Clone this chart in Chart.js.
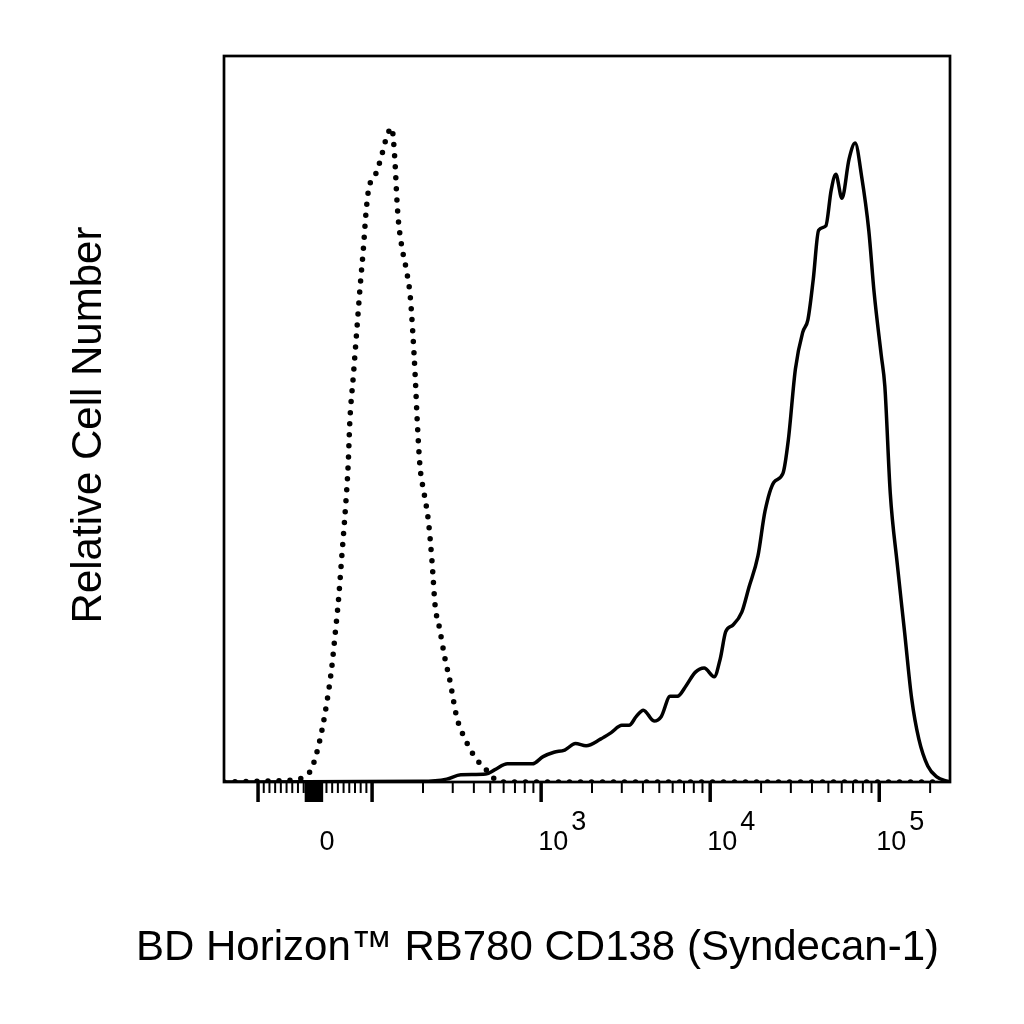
<!DOCTYPE html>
<html>
<head>
<meta charset="utf-8">
<script src="https://cdn.jsdelivr.net/npm/chart.js@4.4.1/dist/chart.umd.min.js"></script>
<style>
  html, body { margin: 0; padding: 0; background: #fff; }
  canvas { display: block; }
</style>
</head>
<body>
<canvas id="myChart" width="1024" height="1024"></canvas>
<script>
// isotype control (dotted) and CD138 stained (solid) histograms
const isoX = [-159, -60, -20.5, -5.8, 8.8, 20.5, 29.3, 35, 41, 47, 53, 58, 61, 67, 73, 79, 85, 89, 93.5,
  107, 117, 122, 131, 134, 137, 140, 143, 150, 159, 168, 174, 180, 185, 192, 203, 215, 226, 236,
  250, 270, 289, 317, 355, 407, 477, 572, 262144];
const isoY = [0, 0.2, 0.6, 1.9, 5.9, 10.9, 15.8, 20.2, 25.0, 31.2, 37.4, 43.6, 49.7, 55.8, 62.0, 68.2, 73.7, 78.1, 81.4,
  84.2, 87.3, 88.9, 90.1, 88.2, 84.9, 80.5, 77.4, 73.7, 70.7, 67.0, 62.0, 55.8, 49.7, 43.5, 39.8, 36.1, 30.5, 24.3,
  21.3, 17.0, 13.9, 8.9, 5.9, 3.4, 1.6, 0, 0];

const cd138X = [-159, 196, 276, 335, 471, 533, 632, 888, 1027, 1191, 1378, 1596, 1846, 2244, 2596,
  3003, 3313, 3648, 4024, 4656, 5130, 5799, 6397, 7221, 8152, 9215, 10560, 11475, 12353, 13604,
  15382, 16943, 19150, 21099, 23823, 26935, 28986, 31921, 35216, 37862, 40690, 43796, 48306, 51938, 55371,
  60159, 66283, 72000, 78670, 86700, 93280, 102750, 107930, 116180, 127990, 141150, 155490, 171530, 193640, 218900,
  253300, 262144];
const cd138Y = [0, 0.1, 0.4, 1.0, 1.1, 1.7, 2.5, 2.5, 3.5, 4.1, 4.4, 5.3, 5.0, 5.9, 6.8,
  7.8, 7.8, 9.0, 9.9, 8.4, 9.0, 11.8, 11.8, 13.3, 15.1, 15.7, 14.5, 17.0, 20.7, 21.6,
  23.4, 26.8, 31.1, 37.3, 41.3, 42.5, 47.1, 56.9, 61.9, 63.7, 69.2, 76.0, 76.6, 81.5, 83.7,
  80.4, 85.8, 88.0, 83.4, 76.0, 67.4, 58.8, 54.5, 39.8, 29.9, 20.7, 11.5, 5.9, 2.2, 0.7,
  0.1, 0];

// axis ticks
const majorTicks = [-100, 100, 1000, 10000, 100000];
const zeroTicks = [-16, -14, -12, -10, -8, -6, -4, -2, 0, 2, 4, 6, 8, 10, 12];
const minorTicks = [-90, -80, -70, -60, -50, -40, -30, -20, 20, 30, 40, 50, 60, 70, 80, 90,
  200, 300, 400, 500, 600, 700, 800, 900,
  2000, 3000, 4000, 5000, 6000, 7000, 8000, 9000,
  20000, 30000, 40000, 50000, 60000, 70000, 80000, 90000, 200000];
const labelValues = [0, 1000, 10000, 100000];
const labelBases = ['0', '10', '10', '10'];
const labelExps = ['', '3', '4', '5'];

const xTitle = 'BD Horizon\u2122 RB780 CD138 (Syndecan-1)';
const yTitle = 'Relative Cell Number';

// biexponential-like display: linear within +-100, log decades outside
const LIN = 100;
const DEC = 169 / 57;
function biex(v) {
  const a = Math.abs(v);
  if (a <= LIN) return v / LIN;
  return Math.sign(v) * (1 + Math.log10(a / LIN) * DEC);
}
function biexInv(d) {
  const a = Math.abs(d);
  if (a <= 1) return d * LIN;
  return Math.sign(d) * LIN * Math.pow(10, (a - 1) / DEC);
}

class BiexScale extends Chart.LinearScale {
  getPixelForValue(value) {
    const a = biex(this.min), b = biex(this.max);
    return this.getPixelForDecimal((biex(value) - a) / (b - a));
  }
  getValueForPixel(pixel) {
    const a = biex(this.min), b = biex(this.max);
    return biexInv(a + this.getDecimalForPixel(pixel) * (b - a));
  }
}
BiexScale.id = 'biex';
BiexScale.defaults = {};
Chart.register(BiexScale);

const FONT = '"Liberation Sans", Arial, Helvetica, sans-serif';

const flowFrame = {
  id: 'flowFrame',
  afterDraw(chart) {
    const ctx = chart.ctx;
    const area = chart.chartArea;
    const xs = chart.scales.x;
    ctx.save();
    ctx.strokeStyle = '#000';
    ctx.fillStyle = '#000';

    // ticks
    ctx.lineCap = 'butt';
    const drawTicks = (vals, len, w) => {
      ctx.lineWidth = w;
      vals.forEach(v => {
        const px = xs.getPixelForValue(v);
        ctx.beginPath();
        ctx.moveTo(px, area.bottom);
        ctx.lineTo(px, area.bottom + len);
        ctx.stroke();
      });
    };
    drawTicks(minorTicks, 11, 2);
    drawTicks(majorTicks, 20, 3.5);
    drawTicks(zeroTicks, 20, 2.5);

    // frame
    ctx.lineWidth = 2.7;
    ctx.strokeRect(area.left, area.top, area.right - area.left, area.bottom - area.top);

    // tick labels
    ctx.font = '27px ' + FONT;
    ctx.textBaseline = 'alphabetic';
    labelValues.forEach((v, i) => {
      const px = xs.getPixelForValue(v);
      if (labelExps[i] === '') {
        ctx.textAlign = 'center';
        ctx.fillText(labelBases[i], px + 12, area.bottom + 68);
      } else {
        ctx.textAlign = 'left';
        ctx.fillText(labelBases[i], px - 3, area.bottom + 68);
        ctx.fillText(labelExps[i], px + 30, area.bottom + 48);
      }
    });

    // axis titles
    ctx.font = '42px ' + FONT;
    ctx.textAlign = 'left';
    ctx.fillText(xTitle, 136, 960);
    ctx.translate(101, 425);
    ctx.rotate(-Math.PI / 2);
    ctx.textAlign = 'center';
    ctx.fillText(yTitle, 0, 0);
    ctx.restore();
  }
};

const ctx = document.getElementById('myChart');
new Chart(ctx, {
  type: 'line',
  data: {
    datasets: [{
      label: 'Isotype control',
      data: isoX.map((x, i) => ({ x: x, y: isoY[i] })),
      borderColor: '#000',
      borderWidth: 5.5,
      borderDash: [0, 11],
      borderCapStyle: 'round',
      pointRadius: 0,
      fill: false,
      cubicInterpolationMode: 'monotone'
    }, {
      label: 'CD138',
      data: cd138X.map((x, i) => ({ x: x, y: cd138Y[i] })),
      borderColor: '#000',
      borderWidth: 3.5,
      borderJoinStyle: 'round',
      pointRadius: 0,
      fill: false,
      cubicInterpolationMode: 'monotone'
    }]
  },
  options: {
    responsive: false,
    animation: false,
    devicePixelRatio: 1,
    layout: {
      padding: { left: 224, right: 74, top: 56, bottom: 242 }
    },
    scales: {
      x: { type: 'biex', min: -159, max: 262144, display: false },
      y: { type: 'linear', min: 0, max: 100, display: false }
    },
    plugins: {
      legend: { display: false },
      tooltip: { enabled: false }
    }
  },
  plugins: [flowFrame]
});
</script>
</body>
</html>
